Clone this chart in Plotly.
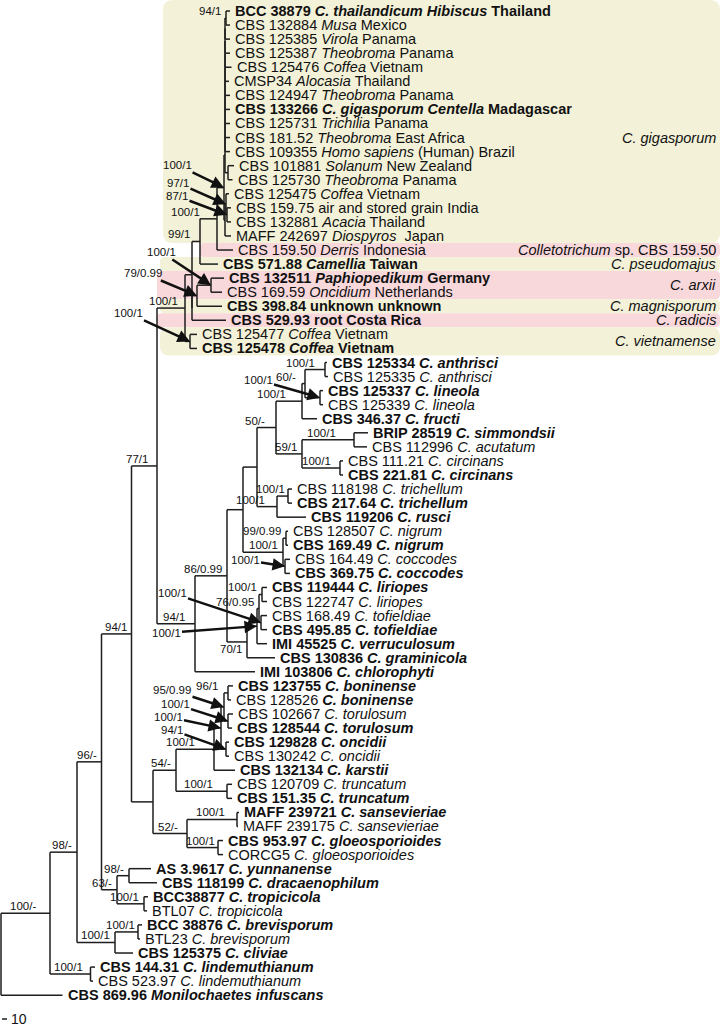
import plotly.graph_objects as go

# ---------------- DATA ----------------
# Tree as an edge table: child, parent, branch length (scale units; bar "10" = 10 units).
# Children are listed in drawing order. Leaves are t0..t70 (row order).
CHILD = [
    "N100m", "t70", "N98a", "Nlind", "N96", "Nbc", "N94b", "N63", "N77", "N153",
    "Nr", "Z", "Y", "Nviet", "N99", "Y2", "Na", "t18", "G", "t17",
    "Lad", "H", "A9", "Nsol", "A8", "t10", "A7", "t9", "A6", "t8",
    "A5", "t7", "A4", "t6", "A3", "t5", "A2", "t4", "A1", "t3",
    "N94", "t2", "t0", "t1", "t11", "t12", "N97", "t16", "t13", "N87",
    "t14", "t15", "N79", "t22", "Narx", "t21", "t19", "t20", "t23", "t24",
    "N86", "t47", "V", "W", "U", "N", "S", "T", "R", "N59",
    "Q", "t29", "Nanth", "Nlin", "t25", "t26", "t27", "t28", "Nsimm", "Ncirc",
    "t30", "t31", "t32", "t33", "Ntrich", "t36", "t34", "t35", "Nnig", "Ncocc",
    "t37", "t38", "t39", "t40", "M", "t46", "L", "t45", "Nlir", "Ntof",
    "t41", "t42", "t43", "t44", "N54", "N52", "Nbkc", "Ntrunc", "Nbto", "t54",
    "Nbt", "Nonc", "Nbon", "Ntor", "t48", "t49", "t50", "t51", "t52", "t53",
    "t55", "t56", "Nsans", "Ngloeo", "t57", "t58", "t59", "t60", "N98b", "Ntrop",
    "t61", "t62", "t63", "t64", "Nbrev", "t67", "t65", "t66", "t68", "t69",
]
PARENT = [
    "root", "root", "N100m", "N100m", "N98a", "N98a", "N96", "N96", "N94b", "N94b",
    "N77", "N77", "Nr", "Nr", "Y", "Y", "N99", "N99", "Na", "Na",
    "G", "G", "Lad", "Lad", "A9", "A9", "A8", "A8", "A7", "A7",
    "A6", "A6", "A5", "A5", "A4", "A4", "A3", "A3", "A2", "A2",
    "A1", "A1", "N94", "N94", "Nsol", "Nsol", "H", "H", "N97", "N97",
    "N87", "N87", "Y2", "Y2", "N79", "N79", "Narx", "Narx", "Nviet", "Nviet",
    "Z", "Z", "N86", "N86", "V", "V", "U", "U", "S", "S",
    "R", "R", "Q", "Q", "Nanth", "Nanth", "Nlin", "Nlin", "N59", "N59",
    "Nsimm", "Nsimm", "Ncirc", "Ncirc", "T", "T", "Ntrich", "Ntrich", "N", "N",
    "Nnig", "Nnig", "Ncocc", "Ncocc", "W", "W", "M", "M", "L", "L",
    "Nlir", "Nlir", "Ntof", "Ntof", "N153", "N153", "N54", "N54", "Nbkc", "Nbkc",
    "Nbto", "Nbto", "Nbt", "Nbt", "Nbon", "Nbon", "Ntor", "Ntor", "Nonc", "Nonc",
    "Ntrunc", "Ntrunc", "N52", "N52", "Nsans", "Nsans", "Ngloeo", "Ngloeo", "N63", "N63",
    "N98b", "N98b", "Ntrop", "Ntrop", "Nbc", "Nbc", "Nbrev", "Nbrev", "Nlind", "Nlind",
]
BRANCH_LENGTH = [
    98, 123, 54, 81, 49, 76, 60, 31, 51, 43,
    56, 76, 14, 10, 16, 0, 34, 36, 14, 32,
    2, 2, 0, 6, 0, 10, 0, 10, 0, 10,
    0, 10, 0, 10, 0, 8, 0, 13, 0, 10,
    2, 10, 8, 8, 12, 9, 2, 12, 6, 2,
    8, 8, 10, 68, 28, 50, 26, 22, 14, 14,
    64, 120, 32, 40, 28, 80, 38, 40, 52, 52,
    6, 30, 40, 30, 4, 6, 6, 6, 104, 76,
    28, 26, 6, 6, 22, 58, 8, 8, 6, 4,
    4, 4, 10, 10, 20, 56, 4, 20, 6, 4,
    10, 10, 12, 12, 46, 68, 76, 102, 14, 42,
    6, 10, 8, 8, 10, 6, 10, 8, 6, 6,
    10, 10, 100, 62, 4, 2, 10, 10, 24, 54,
    44, 56, 8, 6, 46, 36, 8, 4, 9, 5,
]

LEAF_LABELS = [
    "<b>BCC 38879 <i>C. thailandicum Hibiscus</i> Thailand</b>",
    "CBS 132884 <i>Musa</i> Mexico",
    "CBS 125385 <i>Virola</i> Panama",
    "CBS 125387 <i>Theobroma</i> Panama",
    "CBS 125476 <i>Coffea</i> Vietnam",
    "CMSP34 <i>Alocasia</i> Thailand",
    "CBS 124947 <i>Theobroma</i> Panama",
    "<b>CBS 133266 <i>C. gigasporum Centella</i> Madagascar</b>",
    "CBS 125731 <i>Trichilia</i> Panama",
    "CBS 181.52 <i>Theobroma</i> East Africa",
    "CBS 109355 <i>Homo sapiens</i> (Human) Brazil",
    "CBS 101881 <i>Solanum</i> New Zealand",
    "CBS 125730 <i>Theobroma</i> Panama",
    "CBS 125475 <i>Coffea</i> Vietnam",
    "CBS 159.75 air and stored grain India",
    "CBS 132881 <i>Acacia</i> Thailand",
    "MAFF 242697 <i>Diospyros</i>  Japan",
    "CBS 159.50 <i>Derris</i> Indonesia",
    "<b>CBS 571.88 <i>Camellia</i> Taiwan</b>",
    "<b>CBS 132511 <i>Paphiopedikum</i> Germany</b>",
    "CBS 169.59 <i>Oncidium</i> Netherlands",
    "<b>CBS 398.84 unknown unknown</b>",
    "<b>CBS 529.93 root Costa Rica</b>",
    "CBS 125477 <i>Coffea</i> Vietnam",
    "<b>CBS 125478 <i>Coffea</i> Vietnam</b>",
    "<b>CBS 125334 <i>C. anthrisci</i></b>",
    "CBS 125335 <i>C. anthrisci</i>",
    "<b>CBS 125337 <i>C. lineola</i></b>",
    "CBS 125339 <i>C. lineola</i>",
    "<b>CBS 346.37 <i>C. fructi</i></b>",
    "<b>BRIP 28519 <i>C. simmondsii</i></b>",
    "CBS 112996 <i>C. acutatum</i>",
    "CBS 111.21 <i>C. circinans</i>",
    "<b>CBS 221.81 <i>C. circinans</i></b>",
    "CBS 118198 <i>C. trichellum</i>",
    "<b>CBS 217.64 <i>C. trichellum</i></b>",
    "<b>CBS 119206 <i>C. rusci</i></b>",
    "CBS 128507 <i>C. nigrum</i>",
    "<b>CBS 169.49 <i>C. nigrum</i></b>",
    "CBS 164.49 <i>C. coccodes</i>",
    "<b>CBS 369.75 <i>C. coccodes</i></b>",
    "<b>CBS 119444 <i>C. liriopes</i></b>",
    "CBS 122747 <i>C. liriopes</i>",
    "CBS 168.49 <i>C. tofieldiae</i>",
    "<b>CBS 495.85 <i>C. tofieldiae</i></b>",
    "<b>IMI 45525 <i>C. verruculosum</i></b>",
    "<b>CBS 130836 <i>C. graminicola</i></b>",
    "<b>IMI 103806 <i>C. chlorophyti</i></b>",
    "<b>CBS 123755 <i>C. boninense</i></b>",
    "CBS 128526 <b><i>C. boninense</i></b>",
    "CBS 102667 <i>C. torulosum</i>",
    "<b>CBS 128544 <i>C. torulosum</i></b>",
    "<b>CBS 129828 <i>C. oncidii</i></b>",
    "CBS 130242 <i>C. oncidii</i>",
    "<b>CBS 132134 <i>C. karstii</i></b>",
    "CBS 120709 <i>C. truncatum</i>",
    "<b>CBS 151.35 <i>C. truncatum</i></b>",
    "<b>MAFF 239721 <i>C. sansevieriae</i></b>",
    "MAFF 239175 <i>C. sansevieriae</i>",
    "<b>CBS 953.97 <i>C. gloeosporioides</i></b>",
    "CORCG5 <i>C. gloeosporioides</i>",
    "<b>AS 3.9617 <i>C. yunnanense</i></b>",
    "<b>CBS 118199 <i>C. dracaenophilum</i></b>",
    "<b>BCC38877 <i>C. tropicicola</i></b>",
    "BTL07 <i>C. tropicicola</i>",
    "<b>BCC 38876 <i>C. brevisporum</i></b>",
    "BTL23 <i>C. brevisporum</i>",
    "<b>CBS 125375 <i>C. cliviae</i></b>",
    "<b>CBS 144.31 <i>C. lindemuthianum</i></b>",
    "CBS 523.97 <i>C. lindemuthianum</i>",
    "<b>CBS 869.96 <i>Monilochaetes infuscans</i></b>",
]

# support values (bootstrap / posterior probability) written beside the node
SUPPORT = {
    "N94": "94/1", "Na": "100/1", "N99": "99/1", "Nr": "100/1",
    "N77": "77/1", "Z": "94/1", "N86": "86/0.99", "S": "50/-", "R": "100/1",
    "Q": "60/-", "Nanth": "100/1", "N59": "59/1", "Nsimm": "100/1", "Ncirc": "100/1",
    "T": "100/1", "Ntrich": "100/1", "Nnig": "99/0.99", "N": "100/1",
    "Nlir": "100/1", "L": "76/0.95", "W": "70/1",
    "N94b": "94/1", "N96": "96/-", "N54": "54/-", "Nbkc": "100/1", "Nbon": "96/1",
    "Ntrunc": "100/1", "N52": "52/-", "Nsans": "100/1", "Ngloeo": "100/1",
    "N98a": "98/-", "N63": "63/-", "N98b": "98/-", "Ntrop": "100/1",
    "Nbc": "100/1", "Nbrev": "100/1", "N100m": "100/-", "Nlind": "100/1",
}
# support values joined to their node by an arrow
ARROW_SUPPORT = {
    "G": "100/1", "N97": "97/1", "N87": "87/1", "Narx": "100/1", "N79": "79/0.99",
    "Nviet": "100/1", "Nlin": "100/1", "Ncocc": "100/1", "Ntof": "100/1", "M": "100/1",
    "Nbt": "95/0.99", "Ntor": "100/1", "Nbto": "100/1", "Nonc": "94/1",
}

# highlighted clades
CLADE_NAMES = ["<i>C. gigasporum</i>", "<i>Colletotrichum</i> sp. CBS 159.50",
               "<i>C. pseudomajus</i>", "<i>C. arxii</i>", "<i>C. magnisporum</i>",
               "<i>C. radicis</i>", "<i>C. vietnamense</i>"]
CLADE_FIRST = [0, 17, 18, 19, 21, 22, 23]
CLADE_LAST = [16, 17, 18, 20, 21, 22, 24]
CLADE_KIND = ["beige", "pink", "beige", "pink", "beige", "pink", "beige"]

SCALE_BAR_LENGTH = 10
SCALE_BAR_LABEL = "10"

# ---------------- LAYOUT / STYLE ----------------
W, H = 722, 1028
X0_PX, PX_PER_UNIT = 1.0, 0.5
Y0_PX, ROW_PX = 11.0, 14.06
FONT = "Liberation Sans, Arial, sans-serif"
LEAF_FONT = 14.5
SUP_FONT = 11.5
LINE_COLOR = "#1e1e1e"
BAND_COLOR = {"beige": "#f3f1d8", "pink": "#f9d8dc"}
BAND_LEFT_PX = [163, 200, 160, 157, 160, 157, 160]
BAND_RIGHT_PX = 720
BAND_RADIUS = [10, 4, 5, 5, 5, 5, 9]
CLADE_LABEL_ROW_SHIFT = {0: 1.0}
LABEL_DX = {"Nsimm": -16, "Ncirc": -7, "R": -14, "T": -10, "S": -9, "Nsans": -10, "Nbkc": -17,
            "Ntrunc": -12, "N100m": -12, "Nr": -5, "Na": -15, "Ngloeo": -1, "Nbrev": -1,
            "Ntrich": -1, "Z": -8, "N99": -8, "Nanth": -8, "Nbon": -8, "N77": -7, "Q": -7,
            "N52": -7, "Nlind": -6}
LABEL_BELOW = {"W"}
ARROW_LABEL_POS = {
    "G": (177, 165), "N97": (178, 183), "N87": (177, 196), "Narx": (161, 252),
    "N79": (143, 273), "Nviet": (128, 313), "Nlin": (258, 380), "Ncocc": (245, 560),
    "Ntof": (172, 593), "M": (166, 633), "Nbt": (172, 690), "Ntor": (175, 704),
    "Nbto": (168, 717), "Nonc": (172, 730),
}

# ---------------- TREE GEOMETRY ----------------
children = {}
blen = {}
for c, p, L in zip(CHILD, PARENT, BRANCH_LENGTH):
    children.setdefault(p, []).append(c)
    blen[c] = L
X, Y, PX = {}, {}, {}


def place(name, parent_x):
    X[name] = parent_x + blen.get(name, 0)
    PX[name] = parent_x
    if name in children:
        for c in children[name]:
            place(c, X[name])
        Y[name] = (Y[children[name][0]] + Y[children[name][-1]]) / 2
    else:
        Y[name] = int(name[1:])


place("root", 0.0)

xs, ys = [], []
for name in X:
    if name != "root":
        xs += [PX[name], X[name], None]
        ys += [Y[name], Y[name], None]
    if name in children:
        xs += [X[name], X[name], None]
        ys += [Y[children[name][0]], Y[children[name][-1]], None]


def to_px(x, y):
    return X0_PX + x * PX_PER_UNIT, Y0_PX + y * ROW_PX


def from_px(px, py):
    return (px - X0_PX) / PX_PER_UNIT, (py - Y0_PX) / ROW_PX


fig = go.Figure()
fig.add_trace(go.Scatter(x=xs, y=ys, mode="lines",
                         line=dict(color=LINE_COLOR, width=1.5),
                         hoverinfo="skip", showlegend=False))

shapes = []
annotations = []


def P(px, py):
    ux, uy = from_px(px, py)
    return f"{ux:.3f},{uy:.4f}"


for i, label in enumerate(CLADE_NAMES):
    y0p = Y0_PX + (CLADE_FIRST[i] - 0.5) * ROW_PX
    y1p = Y0_PX + (CLADE_LAST[i] + 0.5) * ROW_PX
    if i == 0:
        y0p = 0
    x0p, x1p = BAND_LEFT_PX[i], BAND_RIGHT_PX
    r = BAND_RADIUS[i]
    path = (f"M {P(x0p + r, y0p)} L {P(x1p - r, y0p)} Q {P(x1p, y0p)} {P(x1p, y0p + r)} "
            f"L {P(x1p, y1p - r)} Q {P(x1p, y1p)} {P(x1p - r, y1p)} "
            f"L {P(x0p + r, y1p)} Q {P(x0p, y1p)} {P(x0p, y1p - r)} "
            f"L {P(x0p, y0p + r)} Q {P(x0p, y0p)} {P(x0p + r, y0p)} Z")
    shapes.append(dict(type="path", path=path, xref="x", yref="y", layer="below",
                       fillcolor=BAND_COLOR[CLADE_KIND[i]], line=dict(width=0)))
    annotations.append(dict(x=(BAND_RIGHT_PX - 2) / W, xref="paper",
                            y=(CLADE_FIRST[i] + CLADE_LAST[i]) / 2 + CLADE_LABEL_ROW_SHIFT.get(i, 0),
                            yref="y", text=label, showarrow=False, xanchor="right", yanchor="middle",
                            font=dict(family=FONT, size=LEAF_FONT, color="#111")))

for name in X:
    if name not in children:
        idx = int(name[1:])
        annotations.append(dict(x=X[name], y=Y[name], xref="x", yref="y", text=LEAF_LABELS[idx],
                                showarrow=False, xanchor="left", yanchor="middle", xshift=3,
                                font=dict(family=FONT, size=LEAF_FONT, color="#111")))

for name, txt in SUPPORT.items():
    below = name in LABEL_BELOW
    annotations.append(dict(x=X[name], y=Y[name], xref="x", yref="y", text=txt, showarrow=False,
                            xanchor="right", yanchor="top" if below else "bottom",
                            xshift=LABEL_DX.get(name, -3), yshift=1 if below else -1,
                            font=dict(family=FONT, size=SUP_FONT, color="#111")))

for name, txt in ARROW_SUPPORT.items():
    npx, npy = to_px(X[name], Y[name])
    lx, ly = ARROW_LABEL_POS[name]
    annotations.append(dict(x=X[name], y=Y[name], xref="x", yref="y", text=txt, showarrow=True,
                            ax=lx - npx, ay=ly - npy, arrowhead=2, arrowsize=1.0, arrowwidth=2.5,
                            arrowcolor="#111", standoff=0, startstandoff=0,
                            font=dict(family=FONT, size=SUP_FONT, color="#111")))

sb_x0, sb_y = from_px(2, 1019)
shapes.append(dict(type="line", xref="x", yref="y", x0=sb_x0, x1=sb_x0 + SCALE_BAR_LENGTH,
                   y0=sb_y, y1=sb_y, line=dict(color=LINE_COLOR, width=1.5)))
annotations.append(dict(x=sb_x0 + SCALE_BAR_LENGTH, y=sb_y, xref="x", yref="y", text=SCALE_BAR_LABEL,
                        showarrow=False, xanchor="left", yanchor="middle", xshift=2,
                        font=dict(family=FONT, size=14, color="#111")))

xr = [from_px(0, 0)[0], from_px(W, 0)[0]]
yr = [from_px(0, H)[1], from_px(0, 0)[1]]
fig.update_layout(
    width=W, height=H, margin=dict(l=0, r=0, t=0, b=0),
    paper_bgcolor="white", plot_bgcolor="white",
    xaxis=dict(range=xr, visible=False, fixedrange=True),
    yaxis=dict(range=yr, visible=False, fixedrange=True),
    shapes=shapes, annotations=annotations, showlegend=False,
)
fig.write_html("out.html", config={"displayModeBar": False, "staticPlot": True},
               post_script="document.body.style.margin='0px';document.body.style.overflow='hidden';")
